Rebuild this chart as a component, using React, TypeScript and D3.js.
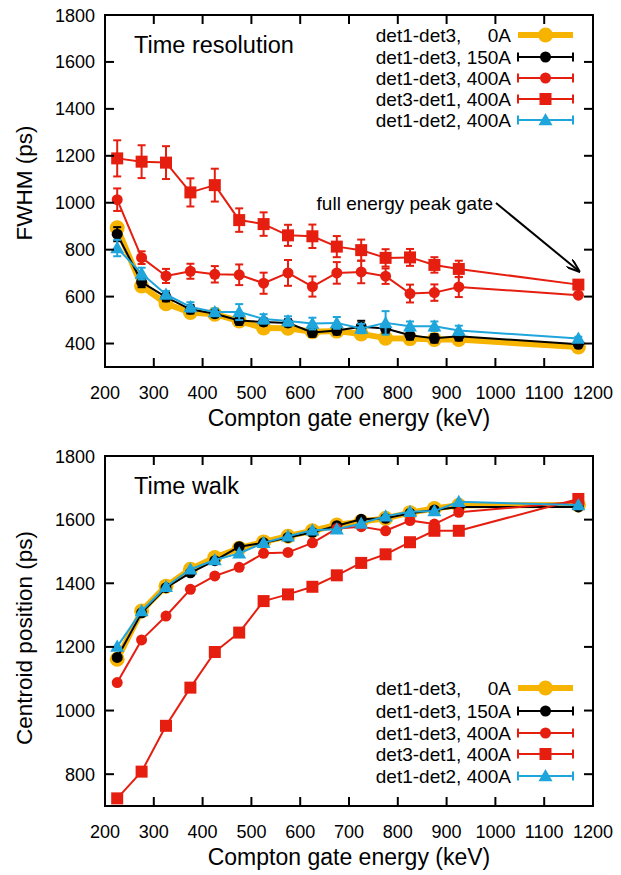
import React from "react";
import * as d3 from "d3";

const energies = [225, 275, 325, 375, 425, 475, 525, 575, 625, 675, 725, 775, 825, 875, 925, 1170];

// FWHM (ps)
const fwhm0A = [893, 645, 570, 532, 525, 496, 466, 465, 450, 453, 441, 423, 421, 417, 417, 385];
const fwhm150A = [866, 662, 598, 546, 527, 498, 492, 488, 447, 456, 472, 464, 435, 422, 431, 397];
const fwhm150AErr = [30, 22, 18, 18, 15, 18, 15, 15, 18, 18, 25, 20, 18, 18, 18, 8];
const fwhm400A = [1013, 766, 688, 708, 695, 693, 657, 701, 643, 701, 705, 687, 613, 617, 641, 606];
const fwhm400AErr = [48, 27, 30, 32, 35, 44, 45, 55, 43, 46, 48, 33, 38, 35, 43, 8];
const fwhmRev = [1189, 1175, 1171, 1044, 1075, 926, 909, 861, 857, 813, 798, 765, 767, 735, 718, 651];
const fwhmRevErr = [77, 70, 70, 60, 70, 50, 50, 45, 50, 45, 45, 37, 36, 33, 35, 10];
const fwhmD12 = [807, 698, 609, 556, 534, 534, 505, 496, 485, 488, 464, 488, 474, 474, 456, 421];
const fwhmD12Err = [35, 25, 15, 20, 15, 34, 20, 20, 25, 25, 20, 50, 20, 20, 20, 8];

// Centroid position (ps)
const cen0A = [1161, 1313, 1391, 1444, 1481, 1510, 1530, 1548, 1565, 1583, 1594, 1604, 1622, 1635, 1645, 1646];
const cen150A = [1167, 1307, 1386, 1433, 1471, 1515, 1527, 1544, 1560, 1581, 1601, 1604, 1620, 1630, 1640, 1640];
const cen400A = [1088, 1222, 1297, 1381, 1423, 1450, 1494, 1497, 1527, 1572, 1578, 1565, 1597, 1586, 1623, 1656];
const cenRev = [724, 808, 952, 1072, 1184, 1245, 1344, 1365, 1389, 1425, 1464, 1491, 1529, 1565, 1565, 1665];
const cenD12 = [1201, 1313, 1389, 1444, 1473, 1494, 1527, 1548, 1567, 1570, 1588, 1611, 1625, 1627, 1656, 1646];

const xTicks = [200, 300, 400, 500, 600, 700, 800, 900, 1000, 1100, 1200];
const yTicksTop = [400, 600, 800, 1000, 1200, 1400, 1600, 1800];
const yTicksBottom = [800, 1000, 1200, 1400, 1600, 1800];

const legendLabels = ["det1-det3,     0A", "det1-det3, 150A", "det1-det3, 400A", "det3-det1, 400A", "det1-det2, 400A"];

const ORANGE = "#f6b400";
const RED = "#e51e10";
const BLUE = "#1ea5dc";
const BLACK = "#000000";
const FONT = "'Liberation Sans', Arial, Helvetica, sans-serif";

type Series = {
  values: number[];
  err?: number[];
  color: string;
  width: number;
  marker: "circle" | "bigcircle" | "square" | "triangle";
};

function Marker({ type, x, y, color }: { type: Series["marker"]; x: number; y: number; color: string }) {
  if (type === "bigcircle") return <circle cx={x} cy={y} r={7.5} fill={color} />;
  if (type === "circle") return <circle cx={x} cy={y} r={5.5} fill={color} />;
  if (type === "square") return <rect x={x - 6} y={y - 6} width={12} height={12} fill={color} />;
  const s = 7;
  return <path d={`M${x},${y - s}L${x + s},${y + s * 0.75}L${x - s},${y + s * 0.75}Z`} fill={color} />;
}

function Panel({
  top, bottom, yDomain, yTicks, series, title, yLabel, yLabelY, legendY,
}: {
  top: number; bottom: number; yDomain: [number, number]; yTicks: number[]; series: Series[];
  title: string; yLabel: string; yLabelY: number; legendY: number[];
}) {
  const left = 105, right = 593;
  const x = d3.scaleLinear().domain([200, 1200]).range([left, right]);
  const y = d3.scaleLinear().domain(yDomain).range([bottom, top]);
  const tl = 9;
  return (
    <g>
      {series.map((s, i) => {
        const line = d3.line<number>().x((_, j) => x(energies[j])).y((v) => y(v));
        return (
          <g key={i}>
            <path d={line(s.values) || ""} fill="none" stroke={s.color} strokeWidth={s.width} strokeLinejoin="round" />
            {s.err && s.values.map((v, j) => {
              const cx = x(energies[j]);
              const y1 = y(v + s.err![j]);
              const y2 = y(v - s.err![j]);
              return (
                <g key={j} stroke={s.color} strokeWidth={2}>
                  <line x1={cx} x2={cx} y1={y1} y2={y2} />
                  <line x1={cx - 4} x2={cx + 4} y1={y1} y2={y1} />
                  <line x1={cx - 4} x2={cx + 4} y1={y2} y2={y2} />
                </g>
              );
            })}
            {s.values.map((v, j) => (
              <Marker key={j} type={s.marker} x={x(energies[j])} y={y(v)} color={s.color} />
            ))}
          </g>
        );
      })}
      {/* frame */}
      <rect x={left} y={top} width={right - left} height={bottom - top} fill="none" stroke="#000" strokeWidth={2} />
      {xTicks.map((t) => (
        <g key={t}>
          <line x1={x(t)} x2={x(t)} y1={bottom} y2={bottom - tl} stroke="#000" strokeWidth={2} />
          <line x1={x(t)} x2={x(t)} y1={top} y2={top + tl} stroke="#000" strokeWidth={2} />
          <text x={x(t)} y={bottom + 32} textAnchor="middle" fontSize={18} fontFamily={FONT}>{t}</text>
        </g>
      ))}
      {yTicks.map((t) => (
        <g key={t}>
          <line x1={left} x2={left + tl} y1={y(t)} y2={y(t)} stroke="#000" strokeWidth={2} />
          <line x1={right} x2={right - tl} y1={y(t)} y2={y(t)} stroke="#000" strokeWidth={2} />
          <text x={95} y={y(t) + 6.5} textAnchor="end" fontSize={18} fontFamily={FONT}>{t}</text>
        </g>
      ))}
      <text x={(left + right) / 2} y={bottom + 59} textAnchor="middle" fontSize={23} fontFamily={FONT}>
        Compton gate energy (keV)
      </text>
      <text transform={`translate(32,${yLabelY}) rotate(-90)`} textAnchor="middle" fontSize={22.5} fontFamily={FONT}>
        {yLabel}
      </text>
      <text x={134} y={top + 38} fontSize={23.5} fontFamily={FONT}>{title}</text>
      {/* legend */}
      {series.map((s, i) => {
        const ly = legendY[i];
        return (
          <g key={"l" + i}>
            <text x={511} y={ly + 7} textAnchor="end" fontSize={19} fontFamily={FONT} style={{ whiteSpace: "pre" }}>
              {legendLabels[i]}
            </text>
            {s.marker === "bigcircle" ? (
              <line x1={518} x2={573} y1={ly} y2={ly} stroke={s.color} strokeWidth={s.width} />
            ) : (
              <g stroke={s.color} strokeWidth={2}>
                <line x1={518} x2={573} y1={ly} y2={ly} />
                <line x1={518} x2={518} y1={ly - 4.5} y2={ly + 4.5} />
                <line x1={573} x2={573} y1={ly - 4.5} y2={ly + 4.5} />
              </g>
            )}
            <Marker type={s.marker} x={545.5} y={ly} color={s.color} />
          </g>
        );
      })}
    </g>
  );
}

export default function App() {
  const topSeries: Series[] = [
    { values: fwhm0A, color: ORANGE, width: 6, marker: "bigcircle" },
    { values: fwhm150A, err: fwhm150AErr, color: BLACK, width: 2, marker: "circle" },
    { values: fwhm400A, err: fwhm400AErr, color: RED, width: 2, marker: "circle" },
    { values: fwhmRev, err: fwhmRevErr, color: RED, width: 2, marker: "square" },
    { values: fwhmD12, err: fwhmD12Err, color: BLUE, width: 2, marker: "triangle" },
  ];
  const bottomSeries: Series[] = [
    { values: cen0A, color: ORANGE, width: 6, marker: "bigcircle" },
    { values: cen150A, color: BLACK, width: 2, marker: "circle" },
    { values: cen400A, color: RED, width: 2, marker: "circle" },
    { values: cenRev, color: RED, width: 2, marker: "square" },
    { values: cenD12, color: BLUE, width: 2, marker: "triangle" },
  ];
  return (
    <svg width={621} height={875} style={{ position: "absolute", left: 0, top: 0, background: "#fff" }}>
      <rect width={621} height={875} fill="#fff" />
      <Panel top={15} bottom={367} yDomain={[300, 1800]} yTicks={yTicksTop} series={topSeries}
        title="Time resolution" yLabel="FWHM (ps)" yLabelY={183} legendY={[35, 57, 78, 99, 120]} />
      <Panel top={456} bottom={806} yDomain={[700, 1800]} yTicks={yTicksBottom} series={bottomSeries}
        title="Time walk" yLabel="Centroid position (ps)" yLabelY={638} legendY={[688, 711, 733, 754, 776]} />
      <text x={493} y={210} textAnchor="end" fontSize={19} fontFamily={FONT}>full energy peak gate</text>
      <defs>
        <marker id="arr" viewBox="0 0 14 10" refX={14} refY={5} markerWidth={14} markerHeight={10} markerUnits="userSpaceOnUse" orient="auto">
          <path d="M0,0L14,5L0,10" fill="none" stroke="#000" strokeWidth={2} />
        </marker>
      </defs>
      <line x1={496} y1={203} x2={580} y2={272} stroke="#000" strokeWidth={2} markerEnd="url(#arr)" />
    </svg>
  );
}
